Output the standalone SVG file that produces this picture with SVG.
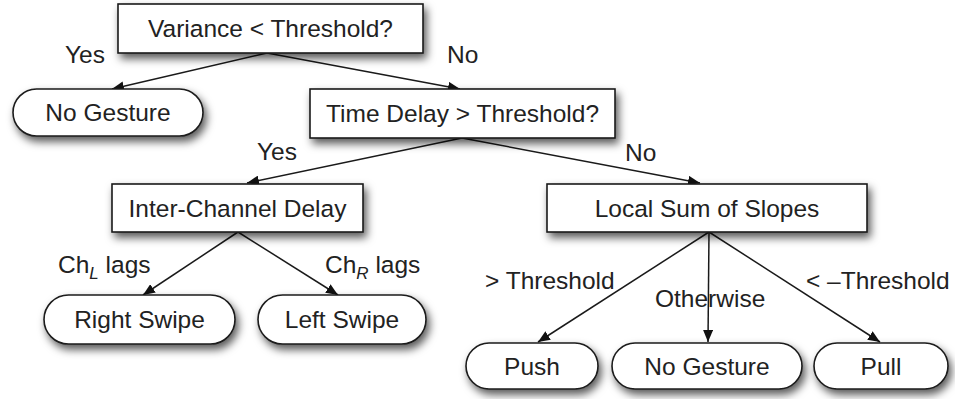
<svg xmlns="http://www.w3.org/2000/svg" width="955" height="399" viewBox="0 0 955 399">
<defs>
<filter id="sh" x="-20%" y="-40%" width="140%" height="190%">
<feDropShadow dx="3" dy="5" stdDeviation="4" flood-color="#000" flood-opacity="0.65"/>
</filter>
<marker id="ah" viewBox="0 0 12 10" refX="12" refY="5" markerWidth="12" markerHeight="10" markerUnits="userSpaceOnUse" orient="auto">
<path d="M0,0 L12,5 L0,10 Z" fill="#111"/>
</marker>
<style>
.box{fill:#fff;stroke:#1a1a1a;stroke-width:1.6;filter:url(#sh)}
.t{font-family:"Liberation Sans",Arial,sans-serif;font-size:24.5px;fill:#222;text-anchor:middle}
.l{font-family:"Liberation Sans",Arial,sans-serif;font-size:24.5px;fill:#222}
.c{stroke:#1a1a1a;stroke-width:1.5;fill:none;marker-end:url(#ah)}
</style>
</defs>
<rect width="955" height="399" fill="#fff"/>
<g id="connectors">
<line class="c" x1="267" y1="53" x2="112" y2="89"/>
<line class="c" x1="267" y1="53" x2="460" y2="89"/>
<line class="c" x1="462" y1="138" x2="247" y2="183"/>
<line class="c" x1="462" y1="138" x2="700" y2="183"/>
<line class="c" x1="238" y1="232" x2="143" y2="295"/>
<line class="c" x1="238" y1="232" x2="338" y2="295"/>
<line class="c" x1="709" y1="232" x2="538" y2="342"/>
<line class="c" x1="709" y1="232" x2="708" y2="342"/>
<line class="c" x1="709" y1="232" x2="880" y2="342"/>
</g>
<g id="labels">
<text class="l" x="65" y="63">Yes</text>
<text class="l" x="447" y="63">No</text>
<text class="l" x="257" y="160">Yes</text>
<text class="l" x="625" y="161">No</text>
<text class="l" x="58" y="273">Ch<tspan font-size="17" font-style="italic" dy="6">L</tspan><tspan dy="-6"> lags</tspan></text>
<text class="l" x="325" y="273">Ch<tspan font-size="17" font-style="italic" dy="6">R</tspan><tspan dy="-6"> lags</tspan></text>
<text class="l" x="485" y="289">&gt; Threshold</text>
<text class="l" x="655" y="307">Otherwise</text>
<text class="l" x="806" y="289">&lt; –Threshold</text>
</g>
<g id="n-variance">
<rect class="box" x="118" y="4" width="305" height="49"/>
<text class="t" x="270.5" y="37">Variance &lt; Threshold?</text>
</g>
<g id="n-nogesture1">
<rect class="box" x="13" y="89" width="190" height="47" rx="23.5"/>
<text class="t" x="108" y="121">No Gesture</text>
</g>
<g id="n-timedelay">
<rect class="box" x="310" y="89" width="305" height="49"/>
<text class="t" x="462.5" y="122">Time Delay &gt; Threshold?</text>
</g>
<g id="n-interchannel">
<rect class="box" x="112" y="184" width="251" height="48"/>
<text class="t" x="237.5" y="216.5">Inter-Channel Delay</text>
</g>
<g id="n-localsum">
<rect class="box" x="547" y="184" width="320" height="48"/>
<text class="t" x="707" y="216.5">Local Sum of Slopes</text>
</g>
<g id="n-rightswipe">
<rect class="box" x="44" y="295" width="191" height="49" rx="24.5"/>
<text class="t" x="139.5" y="328">Right Swipe</text>
</g>
<g id="n-leftswipe">
<rect class="box" x="258" y="295" width="168" height="49" rx="24.5"/>
<text class="t" x="342" y="328">Left Swipe</text>
</g>
<g id="n-push">
<rect class="box" x="466" y="343" width="132" height="46" rx="23"/>
<text class="t" x="532" y="375">Push</text>
</g>
<g id="n-nogesture2">
<rect class="box" x="612" y="343" width="190" height="46" rx="23"/>
<text class="t" x="707" y="375">No Gesture</text>
</g>
<g id="n-pull">
<rect class="box" x="814" y="343" width="134" height="46" rx="23"/>
<text class="t" x="881" y="375">Pull</text>
</g>
</svg>
